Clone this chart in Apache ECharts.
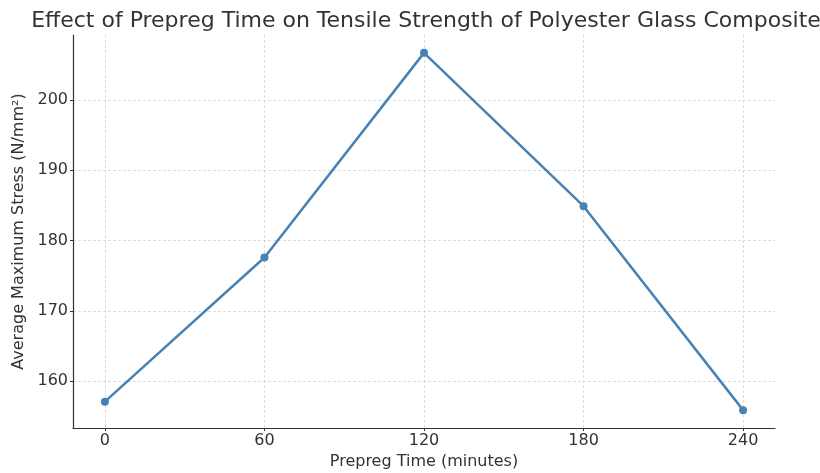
<!DOCTYPE html>
<html>
<head>
<meta charset="utf-8">
<script src="https://cdn.jsdelivr.net/npm/echarts@6/dist/echarts.min.js"></script>
<style>
  html, body { margin: 0; padding: 0; background: #fff; }
  #chart { width: 820px; height: 473px; }
</style>
</head>
<body>
<div id="chart"></div>
<script>
var times = [0, 60, 120, 180, 240];
var stress = [157.1, 177.6, 206.7, 184.9, 155.9];
var xTicks = [0, 60, 120, 180, 240];
var yTicks = [160, 170, 180, 190, 200];

var myChart = echarts.init(document.getElementById('chart'));

var points = [];
for (var i = 0; i < times.length; i++) {
    points.push([times[i], stress[i]]);
}

// dashed grid lines at the tick positions
var gridStyle = {color: '#d4d4d4', type: [3, 2], width: 0.8};
var gridLines = [];
xTicks.forEach(function (v) { gridLines.push({xAxis: v}); });
yTicks.forEach(function (v) { gridLines.push({yAxis: v}); });

myChart.setOption({
    animation: false,
    textStyle: {fontFamily: 'DejaVu Sans'},
    title: {
        text: 'Effect of Prepreg Time on Tensile Strength of Polyester Glass Composite',
        left: 421,
        textAlign: 'center',
        top: 5,
        textStyle: {fontSize: 22, fontWeight: 'normal', color: '#333', fontFamily: 'DejaVu Sans'}
    },
    grid: {left: 73, right: 45, top: 35, bottom: 45, outerBoundsMode: 'none', containLabel: false},
    xAxis: {
        type: 'value',
        min: -12,
        max: 252,
        name: 'Prepreg Time (minutes)',
        nameLocation: 'middle',
        nameGap: 25,
        nameTextStyle: {fontSize: 16, color: '#333'},
        axisLine: {onZero: false, lineStyle: {color: '#333', width: 1.2}},
        axisTick: {show: true, customValues: xTicks, length: 3, lineStyle: {color: '#333'}},
        axisLabel: {customValues: xTicks, fontSize: 16, color: '#333', margin: 5},
        splitLine: {show: false}
    },
    yAxis: {
        type: 'value',
        min: 153.36,
        max: 209.24,
        name: 'Average Maximum Stress (N/mm²)',
        nameLocation: 'middle',
        nameGap: 44,
        nameTextStyle: {fontSize: 16, color: '#333'},
        axisLine: {show: true, onZero: false, lineStyle: {color: '#333', width: 1.2}},
        axisTick: {show: true, customValues: yTicks, length: 3, lineStyle: {color: '#333'}},
        axisLabel: {customValues: yTicks, fontSize: 16, color: '#333', margin: 5},
        splitLine: {show: false}
    },
    series: [
        {
            type: 'line',
            data: points,
            symbol: 'circle',
            symbolSize: 8,
            lineStyle: {color: '#4682b4', width: 2.5},
            itemStyle: {color: '#4682b4'},
            markLine: {
                silent: true,
                symbol: 'none',
                label: {show: false},
                lineStyle: gridStyle,
                z: 0,
                data: gridLines
            },
            z: 3
        }
    ]
});
</script>
</body>
</html>
